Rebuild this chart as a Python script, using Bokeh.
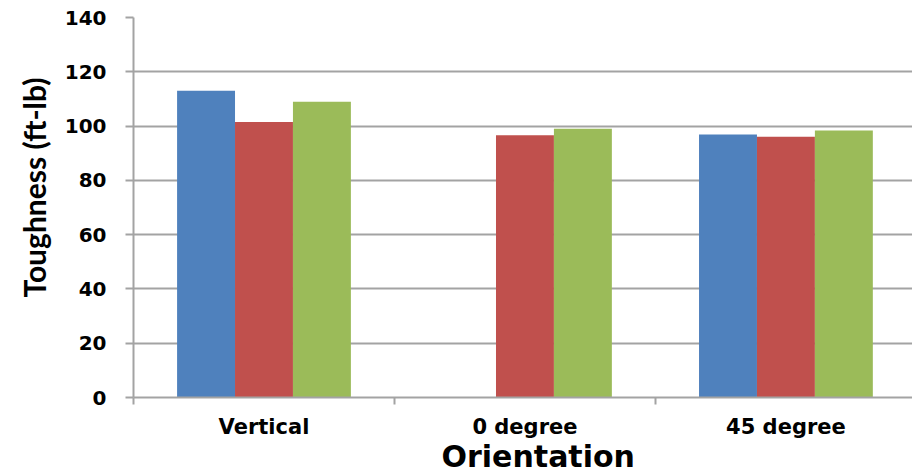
from bokeh.plotting import figure
from bokeh.models import Range1d, FixedTicker, ColumnDataSource, Title
from bokeh.embed import file_html
from bokeh.resources import INLINE

categories = ["Vertical", "0 degree", "45 degree"]
series_blue = [113.0, float("nan"), 96.9]
series_red = [101.5, 96.6, 96.1]
series_green = [109.0, 99.0, 98.4]
y_ticks = [0, 20, 40, 60, 80, 100, 120, 140]
y_title = "Toughness (ft-lb)"
x_title = "Orientation"

colors = ["#4F81BD", "#C0504D", "#9BBB59"]
FONT = "DejaVu Sans"
GRAY = "#A3A3A3"

p = figure(width=912, height=472, output_backend="svg", toolbar_location=None,
           x_range=Range1d(0, 2.985), y_range=Range1d(0, 140),
           min_border_left=133, min_border_right=0, min_border_top=17,
           min_border_bottom=75)
p.outline_line_color = None
p.background_fill_color = "white"
p.border_fill_color = "white"

bar_w = 0.222
centers = [i + 0.5 for i in range(len(categories))]
for k, (vals, col) in enumerate(zip([series_blue, series_red, series_green], colors)):
    off = (k - 1) * bar_w
    src = ColumnDataSource(dict(x=[c + off for c in centers], top=vals))
    p.vbar(x="x", top="top", bottom=0, width=bar_w, source=src,
           fill_color=col, line_color=None)

# grid
p.xgrid.visible = False
p.ygrid.ticker = FixedTicker(ticks=y_ticks)
p.ygrid.grid_line_color = GRAY
p.ygrid.grid_line_width = 2

# y axis
ya = p.yaxis[0]
ya.ticker = FixedTicker(ticks=y_ticks)
ya.axis_line_color = GRAY
ya.axis_line_width = 2
ya.major_tick_line_color = GRAY
ya.major_tick_line_width = 2
ya.major_tick_out = 8
ya.major_tick_in = 0
ya.minor_tick_line_color = None
ya.major_label_text_font = FONT
ya.major_label_text_font_style = "bold"
ya.major_label_text_font_size = "20px"
ya.major_label_text_color = "black"
ya.major_label_standoff = 19

# x axis
xa = p.xaxis[0]
xa.ticker = FixedTicker(ticks=centers, minor_ticks=list(range(len(categories) + 1)))
xa.major_label_overrides = {c: name for c, name in zip(centers, categories)}
xa.axis_line_color = GRAY
xa.axis_line_width = 2
xa.major_tick_line_color = None
xa.major_tick_out = 0
xa.major_tick_in = 0
xa.minor_tick_line_color = GRAY
xa.minor_tick_line_width = 2
xa.minor_tick_out = 7
xa.minor_tick_in = 0
xa.major_label_text_font = FONT
xa.major_label_text_font_style = "bold"
xa.major_label_text_font_size = "21px"
xa.major_label_text_color = "black"
xa.major_label_standoff = 10

p.add_layout(Title(text=x_title, align="left", offset=308, standoff=-10,
                   text_font=FONT, text_font_style="bold",
                   text_font_size="30px", text_color="black"), "below")
p.add_layout(Title(text=y_title, align="left", offset=100, standoff=20,
                   text_font="Lato", text_font_style="bold",
                   text_font_size="30px", text_color="black"), "left")

open("out.html", "w").write(file_html(p, INLINE))
